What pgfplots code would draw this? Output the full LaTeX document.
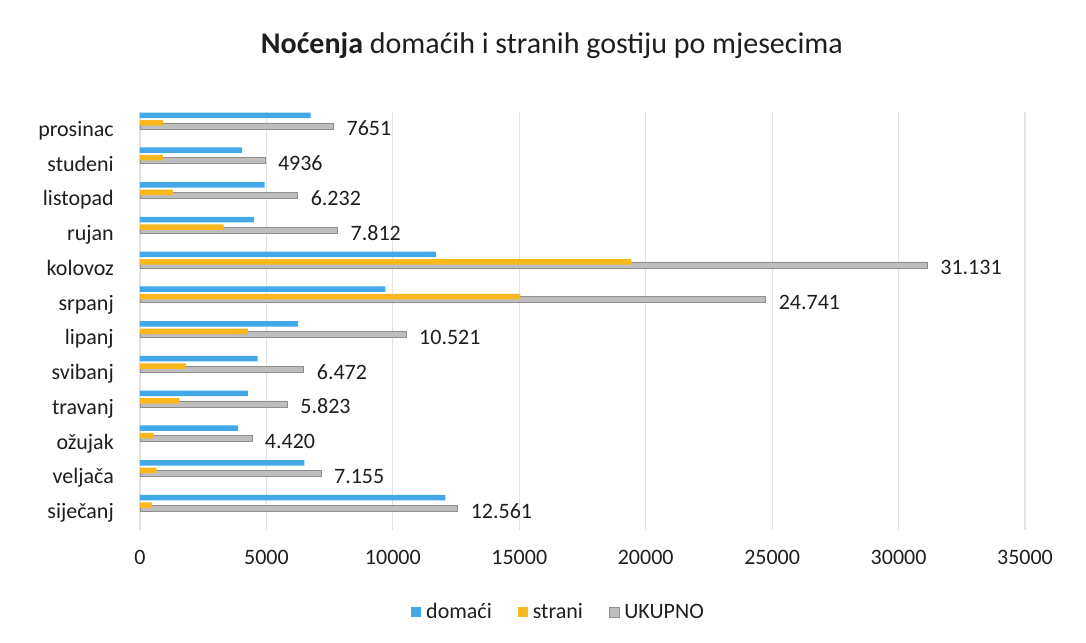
\documentclass[border=0pt]{standalone}
\usepackage{pgfplots}
\usepackage{pgfplotstable}
\pgfplotsset{compat=1.18}
\usepackage{fontspec}
\setmainfont{Carlito}
\definecolor{cblue}{RGB}{66,168,232}
\definecolor{corange}{RGB}{250,184,30}
\definecolor{cgray}{RGB}{190,190,190}
\definecolor{cgrid}{RGB}{226,226,226}
\definecolor{ctext}{RGB}{30,30,30}

\pgfplotstableread[col sep=comma]{
idx,domaci,strani,ukupno,lab
0,12080,481,12561,12.561
1,6500,655,7155,7.155
2,3880,540,4420,4.420
3,4270,1553,5823,5.823
4,4650,1822,6472,6.472
5,6250,4271,10521,10.521
6,9700,15041,24741,24.741
7,11700,19431,31131,31.131
8,4500,3312,7812,7.812
9,4930,1302,6232,6.232
10,4036,900,4936,4936
11,6751,900,7651,7651
}\data

\begin{document}
\begin{tikzpicture}
\useasboundingbox (-140pt,-112.5pt) rectangle (946pt,529.5pt);
\begin{axis}[
  at={(0,0)}, anchor=south west,
  scale only axis, width=885pt, height=417pt,
  xmin=0, xmax=35000, ymin=-0.5, ymax=11.5,
  ytick={0,...,11},
  yticklabels={siječanj,veljača,ožujak,travanj,svibanj,lipanj,srpanj,kolovoz,rujan,listopad,studeni,prosinac},
  xtick={0,5000,...,35000},
  scaled x ticks=false,
  /pgf/number format/1000 sep={},
  /pgf/number format/assume math mode=true,
  axis line style={draw=none},
  major tick length=0pt,
  xmajorgrids,
  grid style={cgrid, line width=1.2pt},
  tick label style={font=\fontsize{22}{26}\selectfont, text=ctext},
  xticklabel style={anchor=base, yshift=-34.5pt, inner sep=0pt},
  yticklabel style={anchor=base east, xshift=-26pt, yshift=-6.5pt, inner sep=0pt},
  title={\textbf{Noćenja} domaćih i stranih gostiju po mjesecima},
  title style={at={(0.4655,1.145)}, anchor=center, font=\fontsize{30}{36}\selectfont, text=ctext},
  legend style={at={(0.4729,-0.198)}, anchor=center, draw=none, fill=none,
    legend columns=3, font=\fontsize{22}{26}\selectfont, text=ctext,
    /tikz/every odd column/.append style={column sep=3pt},
    /tikz/every even column/.append style={column sep=24pt}},
  legend cell align=left,
  legend image code/.code={\fill[#1] (0pt,-5pt) rectangle (10pt,5pt);},
  reverse legend,
]
\addplot[xbar, bar width=6pt, bar shift=4pt, fill=cgray, draw=cgray!75!black, line width=0.4pt,
  nodes near coords, point meta=explicit symbolic,
  every node near coord/.append style={anchor=base west, xshift=13pt, yshift=-6pt, inner sep=0pt,
    font=\fontsize{22}{26}\selectfont, text=ctext}]
  table[x=ukupno, y=idx, meta=lab] {\data};
\addlegendentry{UKUPNO}
\addplot[xbar, bar width=5.5pt, bar shift=7pt, fill=corange, draw=none]
  table[x=strani, y=idx] {\data};
\addlegendentry{strani}
\addplot[xbar, bar width=5.7pt, bar shift=14.5pt, fill=cblue, draw=none]
  table[x=domaci, y=idx] {\data};
\addlegendentry{domaći}
\end{axis}
\end{tikzpicture}
\end{document}
